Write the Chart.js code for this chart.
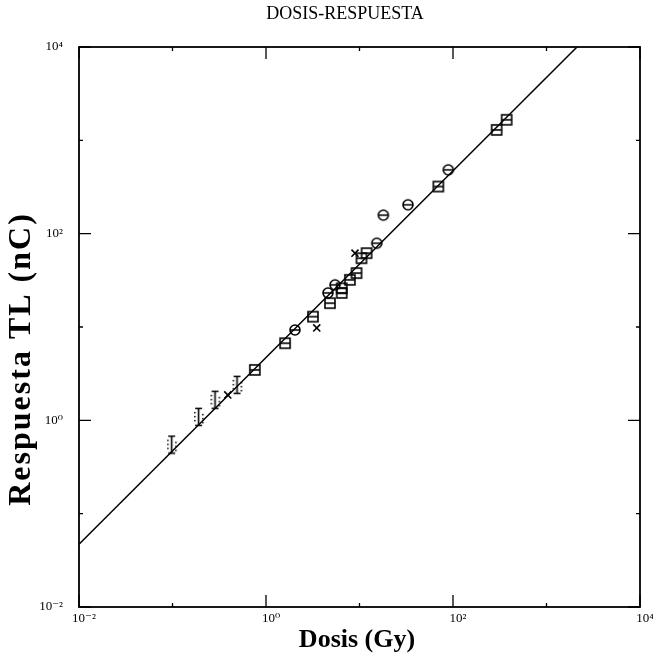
<!DOCTYPE html>
<html>
<head>
<meta charset="utf-8">
<title>Dosis-Respuesta</title>
<script src="https://cdn.jsdelivr.net/npm/chart.js@4.4.0/dist/chart.umd.min.js"></script>
<style>
  html, body { margin: 0; padding: 0; background: #fff; }
  #wrap { width: 653px; height: 664px; }
</style>
</head>
<body>
<div id="wrap"><canvas id="stage"></canvas></div>
<script>
// dosis (Gy) y respuesta TL (nC) de cada serie
var cuadDosis  = [0.76, 1.6, 3.18, 4.83, 6.45, 6.45, 7.9, 9.3, 10.5, 11.9, 69.7, 293, 375];
var cuadResp   = [3.47, 6.7, 12.9, 18, 23.2, 26, 32, 37.8, 54.6, 61.8, 320, 1294, 1660];
var circDosis  = [2.04, 4.6, 5.47, 15.3, 18, 33, 89];
var circResp   = [9.3, 23.2, 28.3, 79, 158, 204, 483];
var barraDosis = [0.098, 0.19, 0.285, 0.49];
var barraResp  = [0.55, 1.09, 1.66, 2.4];
var cruzDosis  = [0.39, 3.49, 8.95];
var cruzResp   = [1.87, 9.77, 61.8];
// recta de ajuste
var ajusteDosis = [0.01, 2120];
var ajusteResp  = [0.047, 10000];
// decadas y sus etiquetas
var decadas = [0.01, 0.1, 1, 10, 100, 1000, 10000];
var etiquetas = {"0.01": "10⁻²", "1": "10⁰", "100": "10²", "10000": "10⁴"};

function puntos(xs, ys) {
    var r = [];
    for (var i = 0; i < xs.length; i++) r.push({x: xs[i], y: ys[i]});
    return r;
}

// marcadores dibujados en canvas pequenos
function marca(dibujo, w, h) {
    var c = document.createElement('canvas');
    c.width = w; c.height = h;
    var g = c.getContext('2d');
    g.strokeStyle = '#000'; g.fillStyle = '#000'; g.lineWidth = 1.6;
    dibujo(g);
    return c;
}
var circulo = marca(function (g) {
    g.beginPath(); g.arc(7, 7, 5, 0, 2 * Math.PI);
    g.moveTo(2, 7); g.lineTo(12, 7); g.stroke();
}, 14, 14);
var cuadro = marca(function (g) {
    g.strokeRect(2, 2, 10, 10);
    g.beginPath(); g.moveTo(2, 7); g.lineTo(12, 7); g.stroke();
}, 14, 14);
var barra = marca(function (g) {
    g.beginPath();
    g.moveTo(3, 1.5); g.lineTo(10, 1.5);
    g.moveTo(6.5, 1.5); g.lineTo(6.5, 18.5);
    g.moveTo(3, 18.5); g.lineTo(10, 18.5);
    g.stroke();
    [[2, 5], [10, 7], [2, 9], [10, 11], [2, 13], [10, 15]].forEach(function (p) { g.fillRect(p[0], p[1], 1.5, 1.5); });
}, 13, 20);

var serif = "'Liberation Serif', 'DejaVu Serif', serif";

// marco, marcas internas y textos
var marco = {
    id: 'marco',
    afterDraw: function (chart) {
        var ctx = chart.ctx, a = chart.chartArea;
        var sx = chart.scales.x, sy = chart.scales.y;
        ctx.save();
        ctx.strokeStyle = '#000';
        ctx.lineWidth = 1.8;
        ctx.strokeRect(a.left, a.top, a.right - a.left, a.bottom - a.top);
        ctx.lineWidth = 1.3;
        decadas.forEach(function (v, i) {
            var largo = (i % 2 == 0) ? 12 : 4;
            var px = sx.getPixelForValue(v), py = sy.getPixelForValue(v);
            ctx.beginPath();
            ctx.moveTo(px, a.bottom); ctx.lineTo(px, a.bottom - largo);
            ctx.moveTo(px, a.top); ctx.lineTo(px, a.top + largo);
            ctx.moveTo(a.left, py); ctx.lineTo(a.left + largo, py);
            ctx.moveTo(a.right, py); ctx.lineTo(a.right - largo, py);
            ctx.stroke();
        });
        ctx.fillStyle = '#000';
        ctx.textAlign = 'center';
        ctx.textBaseline = 'middle';
        ctx.font = '18px ' + serif;
        ctx.fillText('DOSIS-RESPUESTA', 345, 14);
        ctx.font = 'bold 26px ' + serif;
        ctx.fillText('Dosis (Gy)', 357, 640);
        ctx.translate(22, 360);
        ctx.rotate(-Math.PI / 2);
        ctx.font = 'bold 32px ' + serif;
        ctx.letterSpacing = '2px';
        ctx.fillText('Respuesta TL (nC)', 1, 0);
        ctx.restore();
    }
};

var ejeLog = function (ancho, alto, relleno, corrimiento) {
    return {
        type: 'logarithmic',
        min: 0.01,
        max: 10000,
        grid: {display: false},
        border: {display: false},
        afterBuildTicks: function (scale) {
            scale.ticks = decadas.map(function (v) { return {value: v}; });
        },
        afterFit: function (scale) {
            if (ancho) scale.width = ancho;
            if (alto) scale.height = alto;
        },
        ticks: {
            autoSkip: false,
            maxRotation: 0,
            color: '#000',
            font: {family: serif, size: 13},
            padding: relleno,
            labelOffset: corrimiento,
            callback: function (value) { return etiquetas[String(value)] || ''; }
        }
    };
};

new Chart(document.getElementById('stage'), {
    type: 'scatter',
    data: {
        datasets: [
            {
                type: 'line',
                data: puntos(ajusteDosis, ajusteResp),
                borderColor: '#000',
                borderWidth: 1.5,
                pointRadius: 0,
                fill: false
            },
            {data: puntos(cuadDosis, cuadResp), pointStyle: cuadro},
            {data: puntos(circDosis, circResp), pointStyle: circulo},
            {data: puntos(barraDosis, barraResp), pointStyle: barra},
            {
                data: puntos(cruzDosis, cruzResp),
                pointStyle: 'crossRot',
                pointRadius: 5,
                borderColor: '#000',
                borderWidth: 1.6
            }
        ]
    },
    options: {
        responsive: true,
        maintainAspectRatio: false,
        animation: false,
        layout: {padding: {top: 47, right: 13, left: 0, bottom: 0}},
        plugins: {legend: {display: false}, tooltip: {enabled: false}, title: {display: false}},
        scales: {
            x: ejeLog(null, 57, -4, 5),
            y: ejeLog(79, null, 8, 0)
        }
    },
    plugins: [marco]
});
</script>
</body>
</html>
